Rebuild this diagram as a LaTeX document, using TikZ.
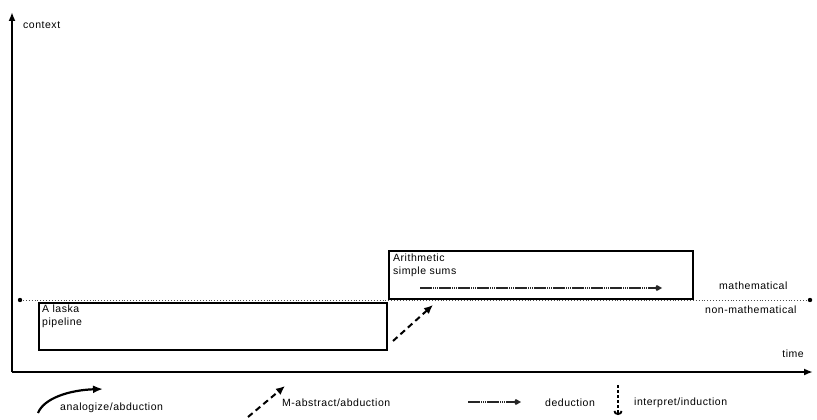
\documentclass[tikz,border=0pt]{standalone}
\usepackage{fontspec}
\setmainfont{Liberation Sans}[LetterSpace=5]
\usetikzlibrary{arrows, positioning, shapes}
\usetikzlibrary{arrows.meta}

\tikzset{
  lbl/.style={font=\fontsize{10.5}{13}\selectfont, inner sep=0pt},
  frame/.style={draw, line width=1.7pt, fill=white, inner sep=0pt, anchor=north west},
  axis/.style={line width=2pt, -{Latex[length=9pt,width=7pt]}},
  analog/.style={line width=2.2pt, -{Latex[length=10pt,width=8pt]}},
  mabstract/.style={line width=2pt, dash pattern=on 6pt off 4pt, -{Latex[length=9pt,width=8pt]}},
  deduce/.style={line width=1.6pt, black!85, dash pattern=on 12pt off 1pt on 1pt off 1pt on 1pt off 1pt on 1pt off 1pt, -{Kite[length=7pt,width=6pt]}},
  interpret/.style={line width=1.8pt, dash pattern=on 3pt off 2pt, -{Arc Barb[length=4pt,width=9pt]}},
}

\begin{document}
\begin{tikzpicture}[x=1pt, y=-1pt]
\useasboundingbox (0,0) rectangle (817,420);
% The axes
\coordinate (o) at (12,372);
\coordinate (ytop) at (12,12);
\coordinate (xend) at (813,372);
\draw[axis] (o) -- (ytop);
\draw[axis] (o) -- (xend);
\node[lbl, anchor=west] (ctx) at (23,25) {context};
\node[lbl, anchor=east] (time) at (804,354) {time};
% The border between mathematical and non-mathematical
\coordinate (bl) at (20,300);
\coordinate (br) at (810,300);
\draw[dotted, line width=0.9pt, black!70] (bl) -- (br);
\fill (bl) circle (2.2pt) (br) circle (2.2pt);
\node[lbl, anchor=west] (math) at (719,286) {mathematical};
\node[lbl, anchor=west] (nonmath) at (705,310) {non-mathematical};
% The two contexts
\node[frame, minimum width=348, minimum height=47] (alaska) at (38,302) {};
\node[lbl, align=left, anchor=north west] (alaskatxt) at ([xshift=4pt,yshift=-3pt]alaska.north west) {A laska\\pipeline};
\node[frame, minimum width=304, minimum height=48] (arith) at (388,250) {};
\node[lbl, align=left, anchor=north west] (arithtxt) at ([xshift=5pt,yshift=-4pt]arith.north west) {Arithmetic\\simple sums};
\coordinate (da) at (420,288);
\coordinate (db) at (662,288);
\draw[deduce] (da) -- (db);
\coordinate (ma) at (393,341);
\coordinate (mb) at (433,305);
\draw[mabstract] (ma) -- (mb);
% The legend
\coordinate (la1) at (38,413);
\coordinate (la2) at (103,389);
\draw[analog] (la1) .. controls (44,398) and (70,390) .. (la2);
\node[lbl, anchor=west] (lanalog) at (60,408) {analogize/abduction};
\coordinate (lm1) at (248,417);
\coordinate (lm2) at (285,386);
\draw[mabstract] (lm1) -- (lm2);
\node[lbl, anchor=west] (lmabs) at (282,403) {M-abstract/abduction};
\coordinate (ld1) at (468,402);
\coordinate (ld2) at (521,402);
\draw[deduce] (ld1) -- (ld2);
\node[lbl, anchor=west] (lded) at (545,403) {deduction};
\coordinate (li1) at (618,385);
\coordinate (li2) at (618,415);
\draw[interpret] (li1) -- (li2);
\node[lbl, anchor=west] (lint) at (634,403) {interpret/induction};
\end{tikzpicture}
\end{document}
